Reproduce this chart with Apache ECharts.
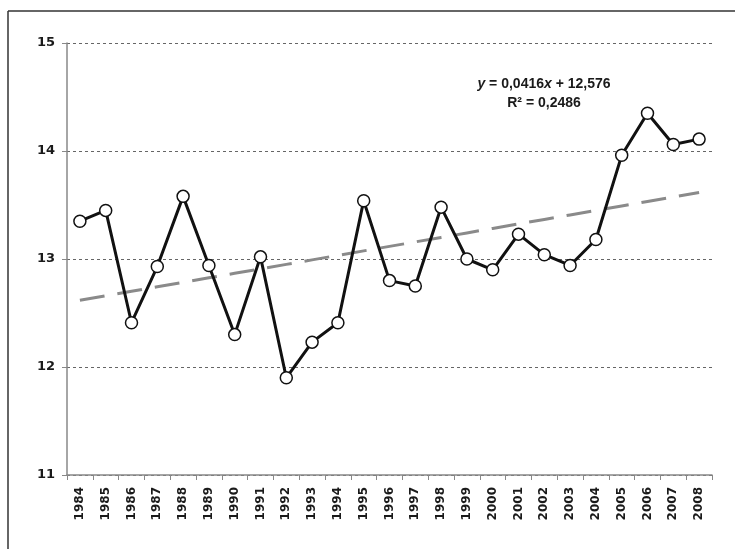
<!DOCTYPE html>
<html>
<head>
<meta charset="utf-8">
<script src="https://cdn.jsdelivr.net/npm/echarts@6/dist/echarts.min.js"></script>
<style>
  html, body { margin: 0; padding: 0; background: #fff; }
  #chart { width: 735px; height: 549px; }
</style>
</head>
<body>
<div id="chart"></div>
<script>
// Years on the category axis
var years = ['1984','1985','1986','1987','1988','1989','1990','1991','1992','1993',
             '1994','1995','1996','1997','1998','1999','2000','2001','2002','2003',
             '2004','2005','2006','2007','2008'];

// Annual values
var values = [13.35, 13.45, 12.41, 12.93, 13.58, 12.94, 12.30, 13.02, 11.90, 12.23,
              12.41, 13.54, 12.80, 12.75, 13.48, 13.00, 12.90, 13.23, 13.04, 12.94,
              13.18, 13.96, 14.35, 14.06, 14.11];

// Linear trend: y = slope * x + intercept, x = 1 .. n
var slope = 0.0416;
var intercept = 12.576;
var rSquared = '0,2486';

var yTicks = [11, 12, 13, 14, 15];

var trend = years.map(function (_, i) {
  return +(slope * (i + 1) + intercept).toFixed(4);
});

var sans = '"Liberation Sans", Arial, sans-serif';
var wide = '"DejaVu Sans", sans-serif';

var chart = echarts.init(document.getElementById('chart'), null, { renderer: 'canvas' });

chart.setOption({
  animation: false,
  backgroundColor: '#fff',
  grid: { left: 67, right: 23, top: 43, bottom: 74, containLabel: false },
  xAxis: {
    type: 'category',
    data: years,
    boundaryGap: true,
    axisLine: { lineStyle: { color: '#888', width: 1.5 } },
    axisTick: { show: true, alignWithLabel: false, length: 5, lineStyle: { color: '#888' } },
    axisLabel: {
      rotate: 90,
      interval: 0,
      margin: 12,
      color: '#1a1a1a',
      fontFamily: wide,
      fontWeight: 'bold',
      fontSize: 12
    },
    splitLine: { show: false }
  },
  yAxis: {
    type: 'value',
    min: yTicks[0],
    max: yTicks[yTicks.length - 1],
    interval: 1,
    axisLine: { show: true, lineStyle: { color: '#888', width: 1.5 } },
    axisTick: { show: true, length: 5, lineStyle: { color: '#888' } },
    axisLabel: {
      margin: 12,
      color: '#1a1a1a',
      fontFamily: wide,
      fontWeight: 'bold',
      fontSize: 13
    },
    splitLine: { show: true, lineStyle: { color: '#666', width: 1, type: [3, 3] } }
  },
  graphic: [
    {
      type: 'line',
      shape: { x1: 8, y1: 11, x2: 8, y2: 549 },
      style: { stroke: '#333', lineWidth: 1.5 }
    },
    {
      type: 'line',
      shape: { x1: 8, y1: 11, x2: 735, y2: 11 },
      style: { stroke: '#333', lineWidth: 1.5 }
    },
    {
      type: 'text',
      x: 544,
      y: 84,
      style: {
        text: '{i|y} = 0,0416{i|x} + 12,576',
        font: 'bold 14px ' + sans,
        fill: '#1a1a1a',
        align: 'center',
        verticalAlign: 'middle',
        rich: {
          i: { fontStyle: 'italic', fontWeight: 'bold', fontSize: 14, fontFamily: sans, fill: '#1a1a1a' }
        }
      }
    },
    {
      type: 'text',
      x: 544,
      y: 103,
      style: {
        text: 'R² = ' + rSquared,
        font: 'bold 14px ' + sans,
        fill: '#1a1a1a',
        align: 'center',
        verticalAlign: 'middle'
      }
    }
  ],
  series: [
    {
      name: 'trend',
      type: 'line',
      data: trend,
      symbol: 'none',
      z: 1,
      lineStyle: { color: '#8a8a8a', width: 3, type: [25, 13] },
      silent: true
    },
    {
      name: 'values',
      type: 'line',
      data: values,
      symbol: 'circle',
      symbolSize: 12,
      z: 3,
      lineStyle: { color: '#111', width: 3 },
      itemStyle: { color: '#fff', borderColor: '#111', borderWidth: 1.5 }
    }
  ]
});
</script>
</body>
</html>
